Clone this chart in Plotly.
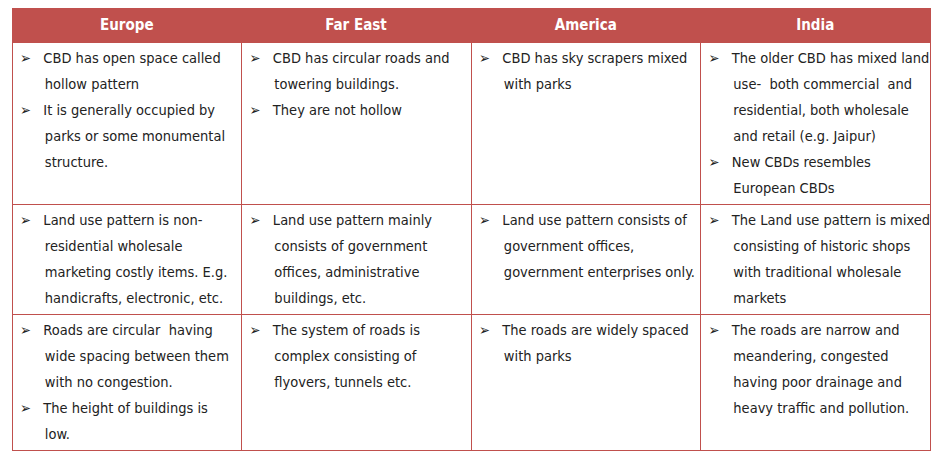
import plotly.graph_objects as go

REGIONS = ["Europe", "Far East", "America", "India"]

# 每个单元格的要点（手工折行，与原图一致）
EUROPE = [
    ["CBD has open space called", "hollow pattern"],
    ["It is generally occupied by", "parks or some monumental", "structure."],
]
FAR_EAST = [
    ["CBD has circular roads and", "towering buildings."],
    ["They are not hollow"],
]
AMERICA = [
    ["CBD has sky scrapers mixed", "with parks"],
]
INDIA = [
    ["The older CBD has mixed land", "use-  both commercial  and", "residential, both wholesale", "and retail (e.g. Jaipur)"],
    ["New CBDs resembles", "European CBDs"],
]

LAND_USE = [
    [["Land use pattern is non-", "residential wholesale", "marketing costly items. E.g.", "handicrafts, electronic, etc."]],
    [["Land use pattern mainly", "consists of government", "offices, administrative", "buildings, etc."]],
    [["Land use pattern consists of", "government offices,", "government enterprises only."]],
    [["The Land use pattern is mixed", "consisting of historic shops", "with traditional wholesale", "markets"]],
]

ROADS = [
    [["Roads are circular  having", "wide spacing between them", "with no congestion."], ["The height of buildings is", "low."]],
    [["The system of roads is", "complex consisting of", "flyovers, tunnels etc."]],
    [["The roads are widely spaced", "with parks"]],
    [["The roads are narrow and", "meandering, congested", "having poor drainage and", "heavy traffic and pollution."]],
]

RED = "#C0504D"
NB = "\u00a0"


def fmt(bullets, n_lines):
    lines = []
    for b in bullets:
        lines.append("<b>➢</b>" + NB * 3 + b[0])
        for rest in b[1:]:
            lines.append(NB * 6 + rest)
    while len(lines) < n_lines:
        lines.append(NB)
    return "<br>".join(f"<span style='font-size:14.5px'>{l}</span>" for l in lines)


row1 = [EUROPE, FAR_EAST, AMERICA, INDIA]
rows = [row1, LAND_USE, ROADS]
heights = [6, 4, 5]
cols = [[fmt(rows[r][c], heights[r]) for r in range(3)] for c in range(4)]

fig = go.Figure(go.Table(
    domain=dict(x=[0, 0.985], y=[0, 1]),
    columnwidth=[1, 1, 1, 1],
    header=dict(
        values=[f"<b>{r}</b>" for r in REGIONS],
        fill_color=RED, line_color=RED, align="center", height=32,
        font=dict(family="DejaVu Sans Condensed, Open Sans", size=15, color="white"),
    ),
    cells=dict(
        values=cols,
        fill_color="white", line=dict(color=RED, width=1), align="left", height=30,
        font=dict(family="DejaVu Sans Condensed, Open Sans", size=20, color="#222222"),
    ),
))
fig.update_layout(width=940, height=462, margin=dict(l=4, r=4, t=0, b=0),
                  paper_bgcolor="white")
fig.write_html("out.html")
